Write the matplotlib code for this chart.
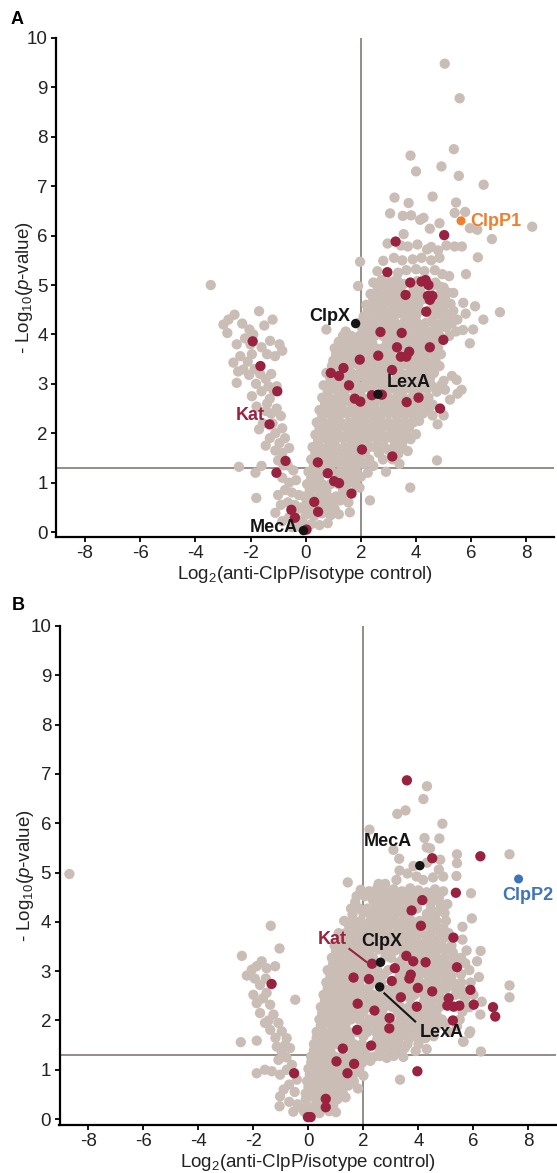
import numpy as np
import matplotlib
matplotlib.use('Agg')
import matplotlib.pyplot as plt

plt.rcParams['font.family'] = ['Liberation Sans', 'DejaVu Sans']
plt.rcParams['mathtext.fontset'] = 'custom'
plt.rcParams['mathtext.rm'] = 'Liberation Sans'
plt.rcParams['mathtext.it'] = 'Liberation Sans:italic'

# colours
GREY = '#c9bdb6'
RED = '#98223f'
LINE = '#8c8480'

#### PANEL A DATA (log2 ratio, -log10 p) ####
grey_a = [
    # sparse top
    (5.04, 9.48), (5.58, 8.78), (5.37, 7.75), (3.80, 7.62), (4.00, 7.30), (4.92, 7.40), (5.55, 7.21),
    (6.45, 7.03), (3.22, 6.77), (3.73, 6.66), (4.60, 6.79), (5.45, 6.67), (5.78, 6.48), (3.06, 6.45),
    (3.52, 6.40), (3.82, 6.41), (4.15, 6.32), (4.27, 6.36), (4.50, 6.14), (4.85, 6.25), (5.40, 6.46),
    (5.95, 6.15), (6.22, 6.12), (8.21, 6.18), (6.75, 5.93), (3.55, 6.03), (2.97, 5.84), (3.45, 5.80),
    (3.70, 5.78), (4.05, 5.82), (4.40, 5.72), (4.55, 5.77), (4.80, 5.70), (5.10, 5.80), (5.40, 5.78),
    (5.66, 5.78), (6.24, 5.56), (1.97, 5.47), (2.81, 5.49), (3.20, 5.55), (3.50, 5.50), (3.88, 5.52),
    (4.20, 5.55), (4.55, 5.50), (4.85, 5.55), (5.81, 5.22), (5.20, 5.18), (2.60, 5.28), (3.35, 5.25),
    (3.65, 5.30), (4.00, 5.32), (4.30, 5.28), (4.68, 5.30), (4.95, 5.22), (1.90, 4.98),
    # dense band 4.3 - 5.1
    (2.45, 5.05), (2.75, 5.10), (3.05, 5.06), (3.30, 5.12), (3.55, 5.02), (4.05, 5.08), (4.70, 5.05),
    (5.00, 4.95), (2.35, 4.82), (2.60, 4.88), (2.90, 4.80), (3.15, 4.90), (3.40, 4.85), (3.90, 4.86),
    (4.15, 4.88), (4.85, 4.80), (5.15, 4.85), (5.35, 4.84), (2.20, 4.60), (2.50, 4.62), (2.78, 4.58),
    (3.05, 4.65), (3.30, 4.58), (3.58, 4.62), (3.85, 4.60), (4.10, 4.64), (4.65, 4.60), (4.95, 4.56),
    (5.25, 4.62), (5.71, 4.64), (6.14, 4.57), (2.10, 4.36), (2.40, 4.40), (2.68, 4.34), (2.95, 4.40),
    (3.20, 4.36), (3.48, 4.42), (3.75, 4.34), (4.00, 4.38), (4.60, 4.35), (4.85, 4.40), (5.18, 4.36),
    (5.50, 4.30), (6.44, 4.30), (7.04, 4.45), (5.80, 4.42),
    # right branch, middle
    (0.75, 4.10), (1.45, 4.06), (2.05, 4.12), (2.30, 4.08), (2.60, 4.14), (2.85, 4.06), (3.10, 4.12),
    (3.40, 4.08), (3.65, 4.14), (3.95, 4.06), (4.20, 4.12), (4.50, 4.05), (4.80, 4.10), (5.10, 4.14),
    (5.45, 4.06), (5.70, 4.09), (6.07, 4.10), (1.20, 3.85), (1.50, 3.88), (1.80, 3.82), (2.10, 3.88),
    (2.40, 3.84), (2.95, 3.86), (3.20, 3.90), (3.50, 3.84), (3.80, 3.88), (4.10, 3.83), (4.40, 3.88),
    (4.70, 3.84), (5.95, 3.82), (1.10, 3.60), (1.40, 3.63), (1.70, 3.58), (2.00, 3.64), (2.30, 3.60),
    (2.85, 3.62), (3.10, 3.58), (4.00, 3.62), (4.30, 3.58), (4.65, 3.62), (4.90, 3.60), (0.95, 3.36),
    (1.25, 3.38), (1.55, 3.34), (1.85, 3.40), (2.15, 3.35), (2.45, 3.38), (2.75, 3.34), (3.05, 3.40),
    (3.40, 3.36), (3.65, 3.40), (3.95, 3.35), (4.25, 3.38), (4.55, 3.33), (4.85, 3.36), (0.90, 3.10),
    (1.20, 3.06), (1.50, 3.12), (1.80, 3.08), (2.10, 3.14), (2.40, 3.08), (2.70, 3.12), (3.00, 3.06),
    (3.30, 3.12), (3.60, 3.08), (3.90, 3.12), (4.20, 3.06), (4.50, 3.10), (5.00, 3.06), (5.47, 3.08),
    (5.30, 3.16), (0.80, 2.86), (1.10, 2.88), (1.40, 2.84), (1.70, 2.90), (2.00, 2.86), (2.30, 2.92),
    (2.95, 2.86), (3.20, 2.90), (3.50, 2.84), (3.80, 2.90), (4.10, 2.86), (4.40, 2.90), (4.75, 2.84),
    (5.05, 2.88), (5.65, 2.88), (0.70, 2.60), (1.00, 2.62), (1.30, 2.58), (1.60, 2.64), (1.90, 2.60),
    (2.20, 2.56), (2.50, 2.62), (2.85, 2.58), (3.10, 2.64), (3.40, 2.58), (3.70, 2.62), (4.00, 2.56),
    (4.30, 2.62), (4.60, 2.58), (5.23, 2.68), (5.50, 2.80), (0.60, 2.35), (0.90, 2.38), (1.20, 2.34),
    (1.50, 2.40), (1.80, 2.36), (2.10, 2.32), (2.40, 2.38), (2.70, 2.34), (3.00, 2.40), (3.30, 2.35),
    (3.60, 2.38), (3.90, 2.34), (4.25, 2.40), (4.60, 2.36), (5.00, 2.36),
    # right branch, lower
    (0.50, 2.10), (0.80, 2.12), (1.10, 2.08), (1.40, 2.14), (1.70, 2.10), (2.00, 2.06), (2.30, 2.12),
    (2.55, 2.08), (2.85, 2.14), (3.15, 2.10), (3.45, 2.06), (3.75, 2.12), (4.11, 2.25), (4.78, 2.18),
    (4.00, 1.98), (0.45, 1.85), (0.75, 1.88), (1.05, 1.84), (1.35, 1.90), (1.65, 1.86), (1.95, 1.82),
    (2.25, 1.88), (2.60, 1.84), (2.90, 1.90), (3.20, 1.86), (3.50, 1.82), (3.80, 1.88), (0.35, 1.60),
    (0.65, 1.62), (0.95, 1.58), (1.25, 1.64), (1.55, 1.60), (1.85, 1.56), (2.15, 1.62), (2.65, 1.60),
    (3.00, 1.66), (3.35, 1.58), (3.70, 1.64), (0.30, 1.35), (0.60, 1.38), (0.90, 1.34), (1.20, 1.40),
    (1.50, 1.36), (1.80, 1.32), (2.10, 1.38), (2.45, 1.34), (3.40, 1.38), (4.76, 1.45), (0.20, 1.10),
    (0.50, 1.12), (1.10, 1.14), (1.40, 1.10), (1.70, 1.08), (2.00, 1.12), (2.91, 1.22), (2.25, 1.20),
    (0.15, 0.85), (0.45, 0.88), (0.75, 0.84), (1.35, 0.86), (1.95, 0.90), (3.79, 0.90), (0.05, 0.60),
    (0.65, 0.62), (0.95, 0.58), (1.25, 0.64), (1.55, 0.60), (2.33, 0.64), (0.00, 0.35), (0.30, 0.32),
    (0.60, 0.38), (0.90, 0.34), (1.20, 0.36), (1.60, 0.40), (-0.10, 0.18), (0.20, 0.16), (0.50, 0.14),
    (0.80, 0.18),
    # left arm
    (-3.44, 5.00), (-2.58, 4.40), (-1.69, 4.47), (-1.20, 4.30), (-2.98, 4.20), (-2.84, 4.03),
    (-2.04, 4.10), (-1.90, 4.00), (-1.29, 3.87), (-0.95, 3.80), (-0.85, 3.67), (-2.37, 3.56),
    (-2.62, 3.43), (-1.95, 3.60), (-1.11, 3.56), (-2.10, 3.45), (-2.26, 3.29), (-1.85, 3.30),
    (-1.65, 3.20), (-1.45, 3.10), (-1.25, 3.20), (-2.50, 3.02), (-1.80, 3.00), (-1.60, 2.85),
    (-1.35, 2.95), (-1.15, 2.85), (-1.05, 2.95), (-1.30, 2.70), (-1.78, 2.54), (-1.45, 2.45),
    (-1.25, 2.40), (-1.05, 2.50), (-0.90, 2.35), (-1.55, 2.20), (-1.69, 2.08), (-1.10, 2.00),
    (-0.85, 2.10), (-1.30, 1.90), (-0.95, 1.80), (-0.75, 1.90), (-1.10, 1.65), (-0.85, 1.60),
    (-0.60, 1.70), (-2.42, 1.32), (-1.60, 1.34), (-1.82, 1.20), (-1.00, 1.45), (-0.65, 1.35),
    (-0.45, 1.25), (-0.85, 1.10), (-0.60, 1.00), (-0.35, 1.05), (-0.75, 0.85), (-0.50, 0.80),
    (-0.25, 0.75), (-1.79, 0.69), (-0.90, 0.55), (-0.65, 0.60), (-0.40, 0.55), (-0.15, 0.50),
    (-1.10, 0.39), (-0.85, 0.22), (-0.60, 0.30), (-0.30, 0.25), (-0.50, 0.10), (-0.20, 0.10),
    (-2.80, 4.30), (-2.30, 4.22), (-1.50, 4.18), (-2.50, 3.80), (-2.20, 3.92), (-1.60, 3.74),
    (-1.40, 3.60), (-2.00, 3.80), (-2.45, 3.25), (-2.05, 3.18), (-1.95, 2.75), (-1.40, 2.60),
    (-1.20, 2.20), (-1.45, 1.75), (-0.80, 1.35), (-1.00, 0.75), (-0.40, 0.40),
]

# extra grey points filling the dense part of panel A (row y, x positions)
fill_a = [
    (4.97, [2.60, 2.90, 3.20, 3.45, 3.90, 4.55, 4.85]),
    (4.72, [2.45, 2.75, 3.00, 3.25, 3.50, 3.75, 4.00, 4.30, 4.75, 5.05]),
    (4.48, [2.25, 2.55, 2.80, 3.10, 3.35, 3.60, 3.90, 4.15, 4.45, 4.70, 5.00, 5.35]),
    (4.23, [1.90, 2.20, 2.45, 2.75, 3.00, 3.25, 3.55, 3.80, 4.05, 4.35, 4.65, 4.95, 5.30]),
    (3.97, [1.35, 1.65, 1.95, 2.25, 2.50, 2.80, 3.05, 3.35, 3.65, 3.95, 4.25, 4.55, 4.85, 5.20]),
    (3.72, [1.05, 1.35, 1.65, 1.95, 2.25, 2.55, 2.80, 3.05, 3.35, 3.60, 3.90, 4.20, 4.55, 4.80]),
    (3.47, [1.00, 1.30, 1.60, 1.90, 2.20, 2.50, 2.80, 3.15, 3.50, 3.80, 4.10, 4.40, 4.70]),
    (3.22, [0.75, 1.05, 1.35, 1.65, 1.95, 2.25, 2.55, 2.85, 3.45, 3.75, 4.05, 4.35, 4.65]),
    (2.97, [0.65, 0.95, 1.25, 1.55, 1.85, 2.15, 2.45, 2.75, 3.05, 3.35, 3.65, 3.95, 4.25, 4.55, 4.90]),
    (2.72, [0.60, 0.85, 1.15, 1.45, 1.75, 2.05, 2.35, 2.65, 3.00, 3.30, 3.55, 3.85, 4.20, 4.45]),
    (2.47, [0.50, 0.75, 1.05, 1.35, 1.65, 1.95, 2.25, 2.55, 2.85, 3.15, 3.45, 3.75, 4.10, 4.45]),
    (2.22, [0.40, 0.65, 0.95, 1.25, 1.55, 1.85, 2.15, 2.45, 2.70, 3.00, 3.30, 3.60, 3.90]),
    (1.97, [0.35, 0.60, 0.90, 1.20, 1.50, 1.80, 2.10, 2.40, 2.75, 3.05, 3.35, 3.65]),
    (1.72, [0.25, 0.50, 0.80, 1.10, 1.40, 1.70, 2.00, 2.30, 2.50, 2.85, 3.20, 3.50]),
    (1.47, [0.20, 0.45, 0.75, 1.05, 1.35, 1.65, 1.95, 2.30, 2.80, 3.15]),
    (1.22, [0.10, 0.35, 0.65, 0.95, 1.25, 1.55, 1.85]),
    (0.97, [0.05, 0.30, 0.60, 0.90, 1.20, 1.50, 1.80]),
    (0.72, [-0.05, 0.20, 0.50, 0.80, 1.10, 1.40]),
    (0.47, [-0.10, 0.15, 0.45, 0.75, 1.05]),
]

red_a = [
    (5.02, 6.01), (3.26, 5.88), (2.96, 5.26), (3.79, 5.05), (4.20, 5.07), (4.35, 5.10), (4.45, 5.00),
    (3.62, 4.80), (4.43, 4.78), (4.59, 4.78), (4.50, 4.70), (4.37, 4.46), (4.99, 3.89), (4.50, 3.74),
    (3.48, 4.03), (2.71, 4.05), (3.31, 3.74), (2.63, 3.57), (3.45, 3.55), (3.65, 3.55), (3.75, 3.65),
    (3.13, 3.28), (1.96, 3.49), (0.91, 3.22), (1.21, 3.16), (1.37, 3.32), (1.57, 2.97), (1.78, 2.70),
    (1.98, 2.64), (2.40, 2.77), (2.76, 2.78), (3.66, 2.63), (4.09, 2.72), (4.87, 2.50), (-1.92, 3.86),
    (-1.64, 3.36), (-1.03, 2.85), (-1.31, 2.18), (-0.73, 1.44), (-1.06, 1.20), (-0.52, 0.45),
    (-0.39, 0.29), (0.03, 0.05), (0.44, 1.41), (0.80, 1.19), (1.03, 1.03), (1.21, 0.99), (1.66, 0.78),
    (0.31, 0.61), (0.45, 0.41), (2.04, 1.67), (3.14, 1.53),
]

black_a_names = ['ClpX', 'LexA', 'MecA']
black_a = [(1.81, 4.22), (2.62, 2.79), (-0.08, 0.03)]
clpp1 = (5.63, 6.30)

#### PANEL B DATA ####
grey_b = [
    # sparse top
    (-8.69, 4.97), (4.31, 6.75), (4.18, 6.49), (3.23, 6.19), (3.53, 6.26), (4.87, 5.99), (2.22, 5.87),
    (4.22, 5.70), (4.76, 5.69), (4.30, 5.51), (4.42, 5.49), (3.09, 5.46), (3.30, 5.28), (5.40, 5.37),
    (7.31, 5.37), (5.40, 5.19), (4.79, 5.26), (3.82, 5.13), (4.31, 5.20), (4.74, 5.06), (3.31, 5.04),
    (3.60, 4.98), (3.93, 4.92), (4.17, 4.85), (4.53, 4.90), (4.90, 4.92), (5.38, 4.93), (3.20, 4.85),
    (1.43, 4.80), (2.55, 4.77), (2.79, 4.77), (5.91, 4.58), (5.94, 4.07), (4.91, 3.87), (6.26, 3.41),
    (6.13, 3.20), (7.31, 2.71), (7.31, 2.47), (5.85, 1.74), (5.62, 1.57), (6.27, 1.37),
    # dense cloud
    (1.90, 4.65), (2.20, 4.62), (2.50, 4.68), (2.80, 4.60), (3.10, 4.66), (3.40, 4.62), (3.70, 4.68),
    (4.00, 4.64), (4.30, 4.60), (4.60, 4.66), (4.90, 4.62), (1.70, 4.40), (2.35, 4.44), (2.65, 4.38),
    (2.95, 4.42), (3.25, 4.38), (3.55, 4.44), (3.85, 4.40), (4.45, 4.38), (4.75, 4.42), (5.05, 4.36),
    (1.60, 4.15), (2.00, 4.18), (2.30, 4.12), (2.60, 4.16), (2.90, 4.14), (3.20, 4.18), (3.50, 4.12),
    (4.30, 4.16), (4.60, 4.12), (4.95, 4.18), (1.46, 3.94), (1.75, 3.88), (2.10, 3.92), (2.40, 3.86),
    (2.70, 3.90), (3.00, 3.94), (3.30, 3.88), (3.60, 3.92), (3.90, 3.86), (4.40, 3.90), (4.70, 3.88),
    (5.60, 3.90), (1.20, 3.66), (1.50, 3.62), (1.80, 3.68), (2.10, 3.64), (2.40, 3.60), (2.75, 3.66),
    (3.05, 3.62), (3.35, 3.68), (3.65, 3.64), (3.95, 3.60), (4.30, 3.66), (4.60, 3.62), (4.95, 3.68),
    (5.60, 3.64), (1.00, 3.40), (1.30, 3.44), (1.60, 3.38), (1.90, 3.42), (2.20, 3.40), (2.55, 3.44),
    (2.85, 3.38), (3.15, 3.42), (3.45, 3.40), (3.75, 3.44), (4.05, 3.38), (4.35, 3.42), (4.65, 3.40),
    (4.95, 3.44), (5.25, 3.38), (5.75, 3.42), (0.90, 3.15), (1.20, 3.18), (1.50, 3.12), (1.80, 3.16),
    (2.10, 3.14), (2.45, 3.18), (2.80, 3.30), (3.30, 3.18), (3.60, 3.12), (3.95, 3.16), (4.50, 3.14),
    (4.80, 3.18), (5.10, 3.12), (5.70, 3.16), (0.80, 2.90), (1.10, 2.94), (1.40, 2.88), (1.95, 2.92),
    (2.50, 2.90), (2.75, 2.94), (3.30, 2.88), (3.55, 2.92), (4.00, 2.90), (4.30, 2.94), (4.60, 2.88),
    (4.90, 2.92), (5.20, 2.90), (5.55, 2.94), (6.20, 2.88), (0.70, 2.65), (1.00, 2.68), (1.30, 2.62),
    (1.60, 2.66), (1.90, 2.64), (2.20, 2.68), (2.85, 2.62), (3.15, 2.66), (3.45, 2.64), (3.75, 2.68),
    (4.25, 2.62), (4.75, 2.66), (5.00, 2.64), (5.30, 2.68), (5.60, 2.62), (0.60, 2.40), (0.90, 2.44),
    (1.20, 2.38), (1.50, 2.42), (2.05, 2.40), (2.30, 2.44), (2.60, 2.38), (2.90, 2.42), (3.20, 2.40),
    (3.70, 2.44), (4.20, 2.38), (4.50, 2.42), (4.80, 2.40), (5.70, 2.44), (6.30, 2.38), (0.50, 2.15),
    (0.80, 2.18), (1.10, 2.12), (1.40, 2.16), (1.70, 2.14), (2.00, 2.18), (2.70, 2.12), (3.25, 2.16),
    (3.50, 2.14), (3.75, 2.18), (4.05, 2.12), (4.35, 2.16), (4.65, 2.14), (5.60, 2.18), (6.25, 2.12),
    (0.45, 1.90), (0.75, 1.94), (1.05, 1.88), (1.35, 1.92), (2.05, 1.90), (2.30, 1.94), (2.60, 1.88),
    (3.20, 1.92), (3.50, 1.90), (3.80, 1.94), (4.10, 1.88), (4.40, 1.92), (4.70, 1.90), (5.00, 1.94),
    (5.40, 1.88), (5.88, 1.78), (0.30, 1.65), (0.60, 1.68), (0.90, 1.62), (1.20, 1.66), (1.50, 1.64),
    (2.00, 1.68), (2.50, 1.62), (2.75, 1.66), (3.05, 1.64), (3.35, 1.68), (3.65, 1.62), (3.95, 1.66),
    (4.25, 1.64), (4.55, 1.68), (5.64, 1.57), (0.20, 1.40), (0.50, 1.44), (0.80, 1.38), (1.55, 1.42),
    (1.85, 1.40), (2.10, 1.44), (2.60, 1.38), (2.90, 1.42), (3.20, 1.40), (3.50, 1.44), (3.90, 1.38),
    (4.30, 1.42), (0.10, 1.15), (0.40, 1.18), (0.70, 1.12), (1.30, 1.16), (1.95, 1.14), (2.25, 1.18),
    (2.60, 1.28), (2.85, 1.24), (3.10, 1.28), (3.45, 1.26), (0.05, 0.90), (0.35, 0.94), (0.65, 0.88),
    (0.95, 0.92), (1.20, 0.90), (1.70, 0.94), (2.00, 0.88), (3.33, 0.80), (0.00, 0.65), (0.30, 0.68),
    (0.55, 0.62), (0.85, 0.66), (1.15, 0.64), (1.45, 0.68), (1.80, 0.62), (-0.10, 0.40), (0.20, 0.44),
    (0.45, 0.38), (0.80, 0.42), (1.05, 0.40), (1.35, 0.44), (-0.15, 0.15), (0.15, 0.18), (0.40, 0.12),
    (0.75, 0.16), (1.00, 0.14),
    # left arm
    (-2.42, 3.31), (-1.37, 3.92), (-1.05, 3.46), (-1.70, 3.20), (-1.88, 3.10), (-2.06, 3.03),
    (-2.24, 2.91), (-1.21, 3.10), (-1.52, 3.06), (-1.76, 2.72), (-1.55, 2.85), (-2.00, 2.52),
    (-1.52, 2.56), (-1.88, 2.35), (-1.39, 2.32), (-0.48, 2.42), (-1.76, 2.15), (-1.27, 2.12),
    (-1.58, 1.95), (-1.09, 1.95), (-1.39, 1.81), (-0.97, 1.78), (-2.46, 1.56), (-1.88, 1.59),
    (-0.79, 1.64), (-1.15, 1.47), (-0.97, 1.37), (-0.67, 1.44), (-1.09, 1.20), (-0.80, 1.25),
    (-1.88, 0.93), (-1.58, 1.00), (-1.33, 0.97), (-1.03, 0.90), (-0.79, 1.00), (-0.60, 1.10),
    (-0.42, 0.80), (-0.70, 0.70), (-0.90, 0.60), (-0.50, 0.55), (-1.03, 0.46), (-1.05, 0.26),
    (-0.70, 0.35), (-0.40, 0.30), (-0.20, 0.20), (-0.55, 0.15), (-1.65, 2.45), (-1.45, 2.00),
    (-1.20, 1.65), (-0.85, 1.50), (-1.95, 2.85),
]

# extra grey points filling the dense part of panel B (row y, x positions)
fill_b = [
    (4.52, [1.75, 2.05, 2.35, 2.65, 2.95, 3.25, 3.55, 3.85, 4.15, 4.45, 4.75]),
    (4.27, [1.55, 1.85, 2.15, 2.45, 2.75, 3.05, 3.35, 3.65, 3.95, 4.45, 4.80]),
    (4.02, [1.30, 1.60, 1.90, 2.25, 2.55, 2.85, 3.15, 3.45, 3.75, 4.05, 4.35, 4.65, 5.00]),
    (3.77, [1.10, 1.35, 1.65, 1.95, 2.25, 2.55, 2.90, 3.20, 3.50, 3.80, 4.10, 4.45, 4.80, 5.10]),
    (3.52, [0.95, 1.25, 1.55, 1.85, 2.15, 2.45, 2.75, 3.05, 3.35, 3.65, 3.95, 4.25, 4.55, 4.85, 5.20]),
    (3.27, [0.85, 1.15, 1.45, 1.75, 2.05, 2.35, 3.00, 3.45, 3.75, 4.05, 4.35, 4.65, 4.95, 5.30, 5.55]),
    (3.02, [0.70, 1.00, 1.30, 1.60, 1.90, 2.20, 2.50, 2.90, 3.40, 3.90, 4.20, 4.50, 4.80, 5.10, 5.85]),
    (2.77, [0.65, 0.95, 1.25, 1.55, 1.85, 2.35, 2.65, 3.20, 3.45, 3.75, 4.05, 4.35, 4.65, 4.95, 5.25, 5.55, 5.90]),
    (2.52, [0.55, 0.85, 1.15, 1.45, 1.75, 2.05, 2.35, 2.65, 2.95, 3.25, 3.55, 3.85, 4.20, 4.75, 5.35, 5.60, 6.00]),
    (2.27, [0.45, 0.75, 1.05, 1.35, 1.65, 2.15, 2.45, 2.75, 3.05, 3.35, 3.65, 4.15, 4.45, 4.75, 5.85]),
    (2.02, [0.40, 0.65, 0.95, 1.25, 1.55, 1.85, 2.20, 2.50, 2.80, 3.35, 3.65, 3.95, 4.25, 4.55, 4.85, 5.50]),
    (1.77, [0.30, 0.55, 0.85, 1.15, 1.45, 1.75, 2.15, 2.45, 2.75, 3.05, 3.35, 3.65, 3.95, 4.25, 4.55, 5.10]),
    (1.52, [0.20, 0.45, 0.75, 1.05, 1.35, 1.65, 1.95, 2.40, 2.70, 3.00, 3.30, 3.60, 4.00]),
    (1.27, [0.10, 0.35, 0.65, 0.95, 1.25, 1.55, 1.85, 2.15, 2.40]),
    (1.02, [0.00, 0.25, 0.55, 0.85, 1.15, 1.50, 1.85]),
    (0.77, [-0.05, 0.20, 0.45, 0.75, 1.05, 1.35, 1.65]),
    (0.52, [-0.10, 0.15, 0.35, 0.65, 0.95, 1.25]),
    (0.27, [-0.05, 0.25, 0.55, 0.90]),
]

red_b = [
    (3.58, 6.87), (4.50, 5.29), (6.25, 5.33), (5.36, 4.59), (4.14, 4.44), (3.75, 4.23), (4.09, 3.92),
    (5.27, 3.68), (5.40, 3.08), (5.89, 2.62), (6.01, 2.32), (6.71, 2.27), (6.79, 2.08), (5.49, 2.30),
    (5.28, 2.28), (5.05, 2.30), (5.10, 2.45), (5.25, 2.00), (4.50, 2.59), (3.98, 2.66), (3.94, 2.28),
    (3.36, 2.47), (2.95, 2.05), (2.94, 1.84), (2.40, 2.20), (3.03, 2.80), (2.20, 2.84), (1.64, 2.87),
    (1.79, 2.34), (1.77, 1.81), (2.28, 1.49), (1.25, 1.43), (1.02, 1.17), (1.66, 1.12), (1.42, 0.93),
    (-0.52, 0.93), (0.63, 0.41), (0.63, 0.24), (-0.02, 0.04), (0.08, 0.04), (-1.34, 2.74), (2.31, 3.15),
    (3.14, 3.06), (3.56, 3.31), (3.81, 3.20), (4.26, 3.18), (3.67, 2.85), (3.72, 2.93), (3.96, 0.97),
]

black_b_names = ['MecA', 'ClpX', 'LexA']
black_b = [(4.05, 5.14), (2.62, 3.18), (2.59, 2.68)]
clpp2 = (7.64, 4.87)

x_ticks = [-8, -6, -4, -2, 0, 2, 4, 6, 8]
y_ticks = list(range(0, 11))


def expand(rows):
    """turn (y, [x, ...]) rows into (x, y) points"""
    return [(x, y) for y, xs in rows for x in xs]


def style_axes(ax, ybottom, label_x):
    """ggplot-like classic axes"""
    ax.set_xlim(-9.05, 9.0)
    ax.set_ylim(ybottom, 10)
    for s in ['top', 'right']:
        ax.spines[s].set_visible(False)
    for s in ['left', 'bottom']:
        ax.spines[s].set_linewidth(1.6)
        ax.spines[s].set_color('black')
    ax.set_xticks(x_ticks)
    ax.set_xticklabels([str(t) for t in x_ticks])
    ax.set_yticks(y_ticks)
    ax.tick_params(length=3.5, width=1.3, labelsize=13.5, labelcolor='#222222', pad=2.5)
    ax.axvline(2, color=LINE, lw=1.3, zorder=1)
    ax.axhline(1.3, color=LINE, lw=1.3, zorder=1)
    ax.set_xlabel(r'Log$_2$(anti-ClpP/isotype control)', fontsize=13.5, color='#222222', labelpad=1)
    ax.set_ylabel(r'- Log$_{10}$($p$-value)', fontsize=13.5, color='#222222')
    ax.yaxis.set_label_coords(label_x, 0.5)
    ax.patch.set_visible(False)


def scatter(ax, pts, color, s, z):
    x, y = zip(*pts)
    ax.scatter(x, y, s=s, color=color, edgecolors='none', zorder=z, clip_on=False)


fig = plt.figure(figsize=(5.57, 11.73), dpi=100)
axA = fig.add_axes([56 / 557, 1 - 537 / 1173, 498 / 557, 499 / 1173])
axB = fig.add_axes([59.5 / 557, 1 - 1125 / 1173, 496.5 / 557, 499 / 1173])

lab = dict(fontsize=13, fontweight='bold', va='center', zorder=5)

# panel A
style_axes(axA, -0.1, -0.042)
scatter(axA, grey_a + expand(fill_a), GREY, 55, 2)
scatter(axA, red_a, RED, 55, 3)
scatter(axA, black_a, '#151515', 46, 4)
scatter(axA, [clpp1], '#f07f2d', 42, 4)
axA.text(1.62, 4.37, 'ClpX', ha='right', color='#151515', **lab)
axA.text(2.95, 3.02, 'LexA', ha='left', color='#151515', **lab)
axA.text(-0.28, 0.10, 'MecA', ha='right', color='#151515', **lab)
axA.text(-2.55, 2.36, 'Kat', ha='left', color=RED, **lab)
axA.text(5.98, 6.29, 'ClpP1', ha='left', color='#f07f2d', **lab)

# panel B
style_axes(axB, -0.12, -0.047)
scatter(axB, grey_b + expand(fill_b), GREY, 55, 2)
scatter(axB, red_b, RED, 55, 3)
scatter(axB, black_b, '#151515', 46, 4)
scatter(axB, [clpp2], '#3f74b8', 42, 4)
axB.plot([1.49, 2.10], [3.45, 3.19], color=RED, lw=1.5, zorder=4)
axB.plot([2.76, 3.88], [2.55, 1.98], color='#151515', lw=1.5, zorder=4)
axB.text(2.0, 5.62, 'MecA', ha='left', color='#151515', **lab)
axB.text(1.92, 3.61, 'ClpX', ha='left', color='#151515', **lab)
axB.text(0.34, 3.65, 'Kat', ha='left', color=RED, **lab)
axB.text(4.03, 1.76, 'LexA', ha='left', color='#151515', **lab)
axB.text(7.05, 4.53, 'ClpP2', ha='left', color='#3f74b8', clip_on=False, **lab)

fig.text(17 / 557, 1 - 20 / 1173, 'A', fontsize=13, fontweight='bold', ha='center', va='center')
fig.text(18 / 557, 1 - 605 / 1173, 'B', fontsize=13, fontweight='bold', ha='center', va='center')

fig.savefig('out.png', dpi=100)
